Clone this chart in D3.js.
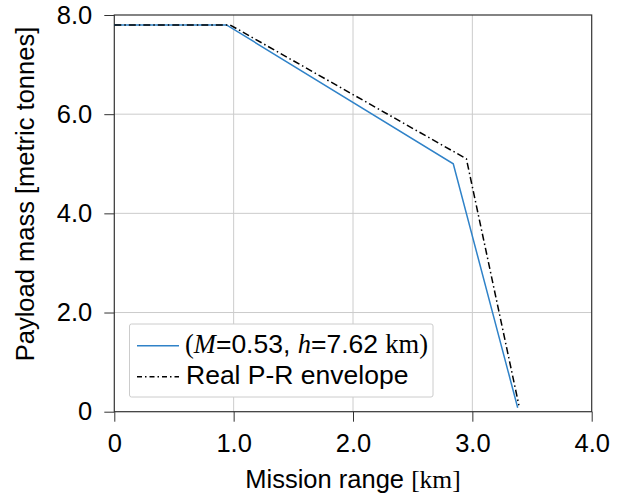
<!DOCTYPE html>
<html>
<head>
<meta charset="utf-8">
<script src="https://cdn.jsdelivr.net/npm/d3@7"></script>
<style>
  body { margin: 0; background: #fff; }
  text { font-family: "Liberation Sans", Arial, sans-serif; fill: #000; }
</style>
</head>
<body>
<div id="chart"></div>
<script>
// chart data
var rangeModel = [0, 0.94, 2.84, 3.38]
var payloadModel = [7.8, 7.8, 5.0, 0.08]
var rangeReal = [0, 0.97, 2.95, 3.39]
var payloadReal = [7.8, 7.8, 5.1, 0.13]
var xTicks = [0, 1, 2, 3, 4]
var xTickLabels = ["0", "1.0", "2.0", "3.0", "4.0"]
var yTicks = [0, 2, 4, 6, 8]
var yTickLabels = ["0", "2.0", "4.0", "6.0", "8.0"]

var width = 622, height = 498
var plotLeft = 114.3, plotRight = 591.7, plotTop = 15, plotBottom = 411.7
var fontSize = "25.5px"
var legendSize = "26.5px"
var serif = "'Liberation Serif', 'Times New Roman', serif"

var svg = d3.select("#chart").append("svg")
  .attr("width", width)
  .attr("height", height)

var x = d3.scaleLinear().domain([0, 4]).range([plotLeft, plotRight])
var y = d3.scaleLinear().domain([0, 8]).range([plotBottom, plotTop])

// grid
svg.append("g").selectAll("line")
  .data(xTicks.slice(1, -1))
  .enter().append("line")
    .attr("x1", d => x(d)).attr("x2", d => x(d))
    .attr("y1", plotTop).attr("y2", plotBottom)
    .attr("stroke", "#cccccc").attr("stroke-width", 1)
svg.append("g").selectAll("line")
  .data(yTicks.slice(1, -1))
  .enter().append("line")
    .attr("y1", d => y(d)).attr("y2", d => y(d))
    .attr("x1", plotLeft).attr("x2", plotRight)
    .attr("stroke", "#cccccc").attr("stroke-width", 1)

// axes
svg.append("g")
  .attr("transform", "translate(0," + plotBottom + ")")
  .call(d3.axisBottom(x).tickValues(xTicks).tickSize(10).tickPadding(12)
    .tickFormat((d, i) => xTickLabels[i]))
svg.append("g")
  .attr("transform", "translate(" + plotLeft + ",0)")
  .call(d3.axisLeft(y).tickValues(yTicks).tickSize(10).tickPadding(12)
    .tickFormat((d, i) => yTickLabels[i]))

svg.selectAll(".domain").remove()
svg.selectAll(".tick line").attr("stroke", "#333")
svg.selectAll(".tick text")
  .style("font-family", "'Liberation Sans', Arial, sans-serif")
  .style("font-size", fontSize)
  .attr("fill", "#000")

// frame
svg.append("rect")
  .attr("x", plotLeft).attr("y", plotTop)
  .attr("width", plotRight - plotLeft).attr("height", plotBottom - plotTop)
  .attr("fill", "none").attr("stroke", "#333").attr("stroke-width", 1.2)

// lines
var line = d3.line()
  .x(d => x(d[0]))
  .y(d => y(d[1]))

svg.append("path")
  .datum(d3.zip(rangeModel, payloadModel))
  .attr("d", line)
  .attr("fill", "none")
  .attr("stroke", "#2f82c8")
  .attr("stroke-width", 1.5)

svg.append("path")
  .datum(d3.zip(rangeReal, payloadReal))
  .attr("d", line)
  .attr("fill", "none")
  .attr("stroke", "#000")
  .attr("stroke-width", 1.5)
  .attr("stroke-dasharray", "7,3,1.5,3")

// axis labels
svg.append("text")
  .attr("x", (plotLeft + plotRight) / 2)
  .attr("y", 488)
  .attr("text-anchor", "middle")
  .style("font-size", fontSize)
  .text("Mission range ")
  .append("tspan")
    .style("font-family", serif)
    .text("[km]")

svg.append("text")
  .attr("transform", "translate(34,194) rotate(-90)")
  .attr("text-anchor", "middle")
  .style("font-size", fontSize)
  .text("Payload mass [metric tonnes]")

// legend
var legend = svg.append("g")
legend.append("rect")
  .attr("x", 129.5).attr("y", 324)
  .attr("width", 303.5).attr("height", 73)
  .attr("rx", 2)
  .attr("fill", "#fff")
  .attr("stroke", "#cccccc")
  .attr("stroke-width", 1)

legend.append("line")
  .attr("x1", 137).attr("x2", 179)
  .attr("y1", 345.7).attr("y2", 345.7)
  .attr("stroke", "#2f82c8").attr("stroke-width", 1.5)
legend.append("line")
  .attr("x1", 137).attr("x2", 179)
  .attr("y1", 376.7).attr("y2", 376.7)
  .attr("stroke", "#000").attr("stroke-width", 1.5)
  .attr("stroke-dasharray", "5,3,1.5,3")

var t1 = legend.append("text")
  .attr("x", 185).attr("y", 353)
  .style("font-size", legendSize)
t1.append("tspan").style("font-family", serif).text("(")
t1.append("tspan").style("font-family", serif).style("font-style", "italic").text("M")
t1.append("tspan").text("=0.53, ")
t1.append("tspan").style("font-family", serif).style("font-style", "italic").text("h")
t1.append("tspan").text("=7.62 ")
t1.append("tspan").style("font-family", serif).text("km)")

legend.append("text")
  .attr("x", 186).attr("y", 384)
  .style("font-size", legendSize)
  .text("Real P-R envelope")
</script>
</body>
</html>
